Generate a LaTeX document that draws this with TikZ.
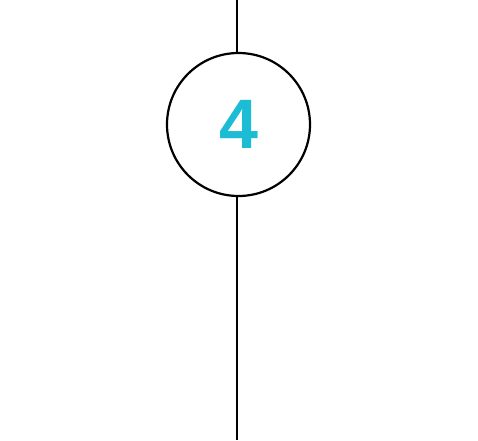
\documentclass[tikz,border=0pt]{standalone}
\usepackage{fontspec}
\setmainfont{Liberation Sans}
\definecolor{numcyan}{HTML}{1BBCD4}
\tikzset{
  stepcircle/.style={circle, draw=black, line width=2.2pt, minimum size=143pt, inner sep=0pt, fill=white},
  numtext/.style={text=numcyan, font=\fontsize{70}{70}\selectfont\bfseries},
  stem/.style={draw=black, line width=1.5pt}
}
\begin{document}
\begin{tikzpicture}[x=1pt,y=1pt]
\useasboundingbox (0,0) rectangle (478,440);
\coordinate (top) at (237,440);
\coordinate (bot) at (237,0);
\node[stepcircle] (c) at (238.5,315.5) {};
\node[numtext] (n) at (238.5,315.5) {4};
\draw[stem] (top) -- (c.north -| top);
\draw[stem] (c.south -| bot) -- (bot);
\end{tikzpicture}
\end{document}
